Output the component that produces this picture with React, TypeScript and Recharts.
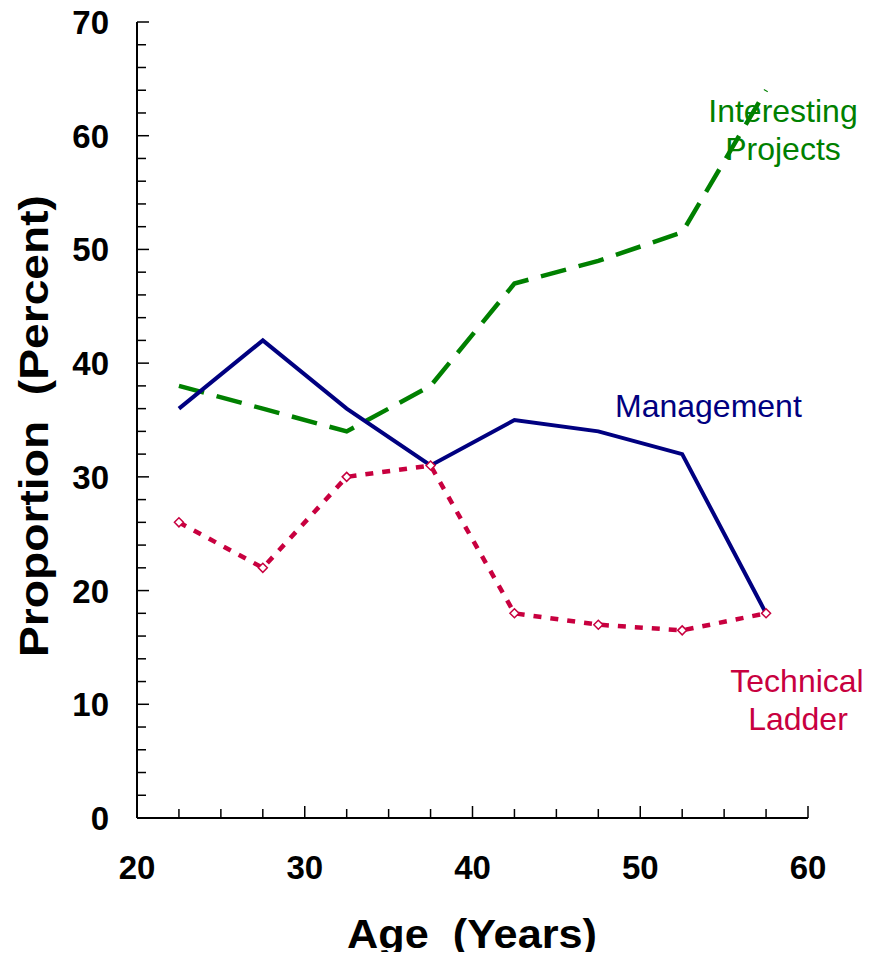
import React from 'react';
import { LineChart, Line, XAxis, YAxis } from 'recharts';

const ages = [22.5, 27.5, 32.5, 37.5, 42.5, 47.5, 52.5, 57.5];
const management = [36, 42, 36, 31, 35, 34, 32, 18];
const interestingProjects = [38, 36, 34, 38, 47, 49, 51.5, 64];
const technicalLadder = [26, 22, 30, 31, 18, 17, 16.5, 18];

const xTicks = [20, 22.5, 25, 27.5, 30, 32.5, 35, 37.5, 40, 42.5, 45, 47.5, 50, 52.5, 55, 57.5, 60];
const yTicks = [0, 2, 4, 6, 8, 10, 12, 14, 16, 18, 20, 22, 24, 26, 28, 30, 32, 34, 36, 38, 40, 42, 44, 46, 48, 50, 52, 54, 56, 58, 60, 62, 64, 66, 68, 70];
const xLabels = [20, 30, 40, 50, 60];
const yLabels = [0, 10, 20, 30, 40, 50, 60, 70];

const data = ages.map((age, i) => ({
    age,
    management: management[i],
    interesting: interestingProjects[i],
    technical: technicalLadder[i],
}));

const W = 855;
const H = 944;
const FONT = '"Liberation Sans", Arial, Helvetica, sans-serif';

const NAVY = '#000080';
const GREEN = '#008000';
const CRIMSON = '#C8003F';

const XTick = ({ x, y, payload }: any) => {
    const major = xLabels.includes(payload.value);
    return (
        <g>
            <line x1={x} x2={x} y1={y} y2={y - (major ? 12 : 9)} stroke="#000" strokeWidth={1.5} />
            {major && (
                <text x={x} y={y + 61} textAnchor="middle" fontFamily={FONT} fontWeight={700} fontSize={33} fill="#000">
                    {payload.value}
                </text>
            )}
        </g>
    );
};

const YTick = ({ x, y, payload }: any) => {
    const major = yLabels.includes(payload.value);
    return (
        <g>
            <line x1={x} x2={x + (major ? 12 : 9)} y1={y} y2={y} stroke="#000" strokeWidth={1.5} />
            {major && (
                <text x={x - 28} y={y + 12} textAnchor="end" fontFamily={FONT} fontWeight={700} fontSize={33} fill="#000">
                    {payload.value}
                </text>
            )}
        </g>
    );
};

const Diamond = ({ cx, cy, index }: any) => (
    <polygon
        key={`d-${index}`}
        points={`${cx},${cy - 4.5} ${cx + 4.5},${cy} ${cx},${cy + 4.5} ${cx - 4.5},${cy}`}
        fill="#fff"
        stroke={CRIMSON}
        strokeWidth={1.5}
    />
);

export default function App() {
    return (
        <div style={{ position: 'relative', width: W, height: H }}>
            {/* labels sit behind the lines */}
            <svg width={W} height={H + 8} style={{ position: 'absolute', left: 0, top: 0, overflow: 'visible' }}>
                <text x={775} y={114} textAnchor="middle" fontFamily={FONT} fontSize={32} fill={GREEN}>Interesting</text>
                <text x={775} y={152} textAnchor="middle" fontFamily={FONT} fontSize={32} fill={GREEN}>Projects</text>
                <text x={607} y={409} fontFamily={FONT} fontSize={32} fill={NAVY}>Management</text>
                <text x={789} y={684} textAnchor="middle" fontFamily={FONT} fontSize={32} fill={CRIMSON}>Technical</text>
                <text x={790} y={722} textAnchor="middle" fontFamily={FONT} fontSize={32} fill={CRIMSON}>Ladder</text>
                <text x={464} y={940} textAnchor="middle" fontFamily={FONT} fontWeight={700} fontSize={40}
                    textLength={250} lengthAdjust="spacingAndGlyphs"
                    style={{ whiteSpace: 'pre' }} fill="#000">
                    {'Age  (Years)'}
                </text>
                <text x={0} y={0} textAnchor="middle" fontFamily={FONT} fontWeight={700} fontSize={40}
                    transform="translate(40,418) rotate(-90)" textLength={462} lengthAdjust="spacingAndGlyphs"
                    style={{ whiteSpace: 'pre' }} fill="#000">
                    {'Proportion  (Percent)'}
                </text>
            </svg>
            <LineChart width={W} height={H} data={data} margin={{ top: 14, right: 55, left: 0, bottom: 0 }}>
                <XAxis
                    dataKey="age"
                    type="number"
                    domain={[20, 60]}
                    ticks={xTicks}
                    interval={0}
                    height={134}
                    tickSize={0}
                    tickMargin={0}
                    tickLine={false}
                    axisLine={{ stroke: '#000', strokeWidth: 2 }}
                    tick={<XTick />}
                />
                <YAxis
                    type="number"
                    domain={[0, 70]}
                    ticks={yTicks}
                    interval={0}
                    width={129}
                    tickSize={0}
                    tickMargin={0}
                    tickLine={false}
                    axisLine={{ stroke: '#000', strokeWidth: 2 }}
                    tick={<YTick />}
                />
                <Line type="linear" dataKey="interesting" stroke={GREEN} strokeWidth={4.5}
                    strokeDasharray="26 13" dot={false} isAnimationActive={false} />
                <Line type="linear" dataKey="management" stroke={NAVY} strokeWidth={4}
                    dot={false} isAnimationActive={false} />
                <Line type="linear" dataKey="technical" stroke={CRIMSON} strokeWidth={4.5}
                    strokeDasharray="8 9" dot={<Diamond />} isAnimationActive={false} />
            </LineChart>
        </div>
    );
}
